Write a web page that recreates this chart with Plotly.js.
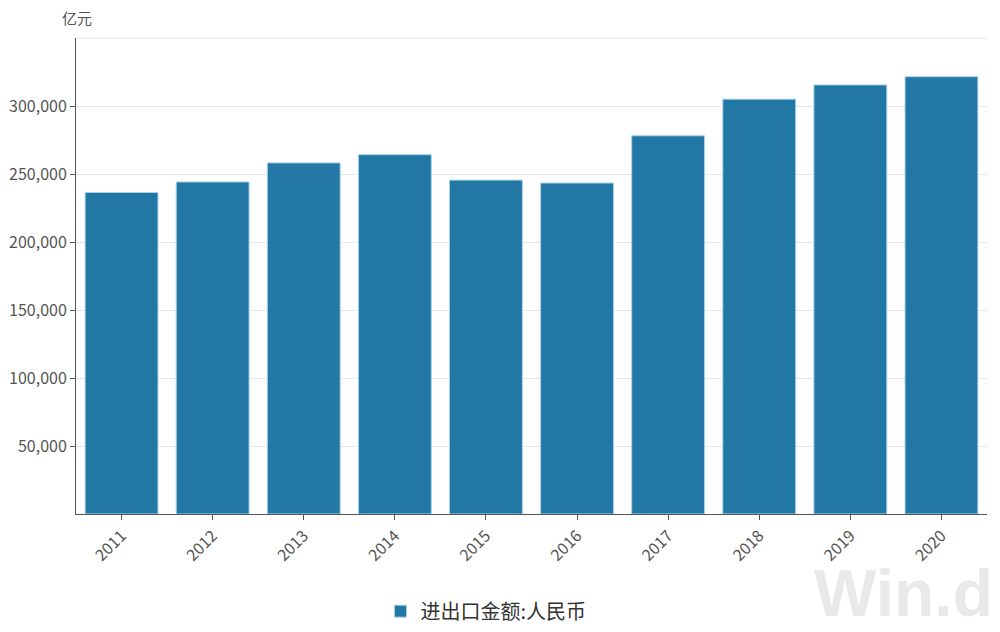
<!DOCTYPE html>
<html>
<head>
<meta charset="utf-8">
<script src="https://cdn.plot.ly/plotly-3.0.1.min.js"></script>
<style>html,body{margin:0;padding:0;background:#fff;}#chart{width:1000px;height:632px;}</style>
</head>
<body>
<div id="chart"></div>
<script>
const years = ['2011','2012','2013','2014','2015','2016','2017','2018','2019','2020'];
const tradeValues = [236402, 244160, 258169, 264242, 245503, 243386, 278099, 305050, 315505, 321557];
const yTickVals = [50000, 100000, 150000, 200000, 250000, 300000];
const yTickText = ['50,000','100,000','150,000','200,000','250,000','300,000'];
const seriesName = '进出口金额:人民币';
const unitLabel = '亿元';

const font = '"Microsoft YaHei", "Noto Sans CJK SC", sans-serif';

const trace = {
  type: 'bar',
  x: years,
  y: tradeValues,
  name: seriesName,
  marker: {color: '#2277a4', line: {color: '#a9d4ea', width: 1}},
  hoverinfo: 'x+y'
};

const layout = {
  width: 1000, height: 632,
  margin: {l: 76, r: 13, t: 38, b: 118, autoexpand: false},
  paper_bgcolor: '#fff', plot_bgcolor: '#fff',
  bargap: 0.2,
  font: {family: font, color: '#555', size: 15},
  showlegend: true,
  legend: {
    orientation: 'h', x: 0.486, xanchor: 'center', xref: 'container',
    y: 0.033, yanchor: 'middle', yref: 'container',
    font: {family: font, size: 20, color: '#333'},
    itemwidth: 30
  },
  xaxis: {
    type: 'category', automargin: false,
    showline: true, linecolor: '#555', linewidth: 1,
    ticks: 'outside', ticklen: 5, tickcolor: '#555',
    tickangle: -45,
    tickfont: {family: font, size: 16, color: '#555'},
    showgrid: false
  },
  yaxis: {
    range: [0, 350000], automargin: false,
    tickvals: yTickVals, ticktext: yTickText,
    showline: true, linecolor: '#555', linewidth: 1,
    ticks: 'outside', ticklen: 5, tickcolor: '#555',
    tickfont: {family: font, size: 16, color: '#555'},
    showgrid: true, gridcolor: '#e6e6e6', gridwidth: 1,
    zeroline: false
  },
  shapes: [{
    type: 'line', xref: 'paper', yref: 'paper', x0: 0, x1: 1, y0: 1, y1: 1,
    line: {color: '#e6e6e6', width: 1}
  }],
  annotations: [
    {text: unitLabel, xref: 'paper', yref: 'paper', x: 0.001, y: 1.044, xanchor: 'center', yanchor: 'middle',
     showarrow: false, font: {family: font, size: 15, color: '#555'}},
    {text: '<b>Win.d</b>', xref: 'paper', yref: 'paper', x: 1.0088, y: -0.248, xanchor: 'right', yanchor: 'bottom',
     showarrow: false, font: {family: 'Arial, "Liberation Sans", sans-serif', size: 66, color: '#e9e9e9'}}
  ]
};

Plotly.newPlot('chart', [trace], layout, {displayModeBar: false, staticPlot: true});
</script>
</body>
</html>
